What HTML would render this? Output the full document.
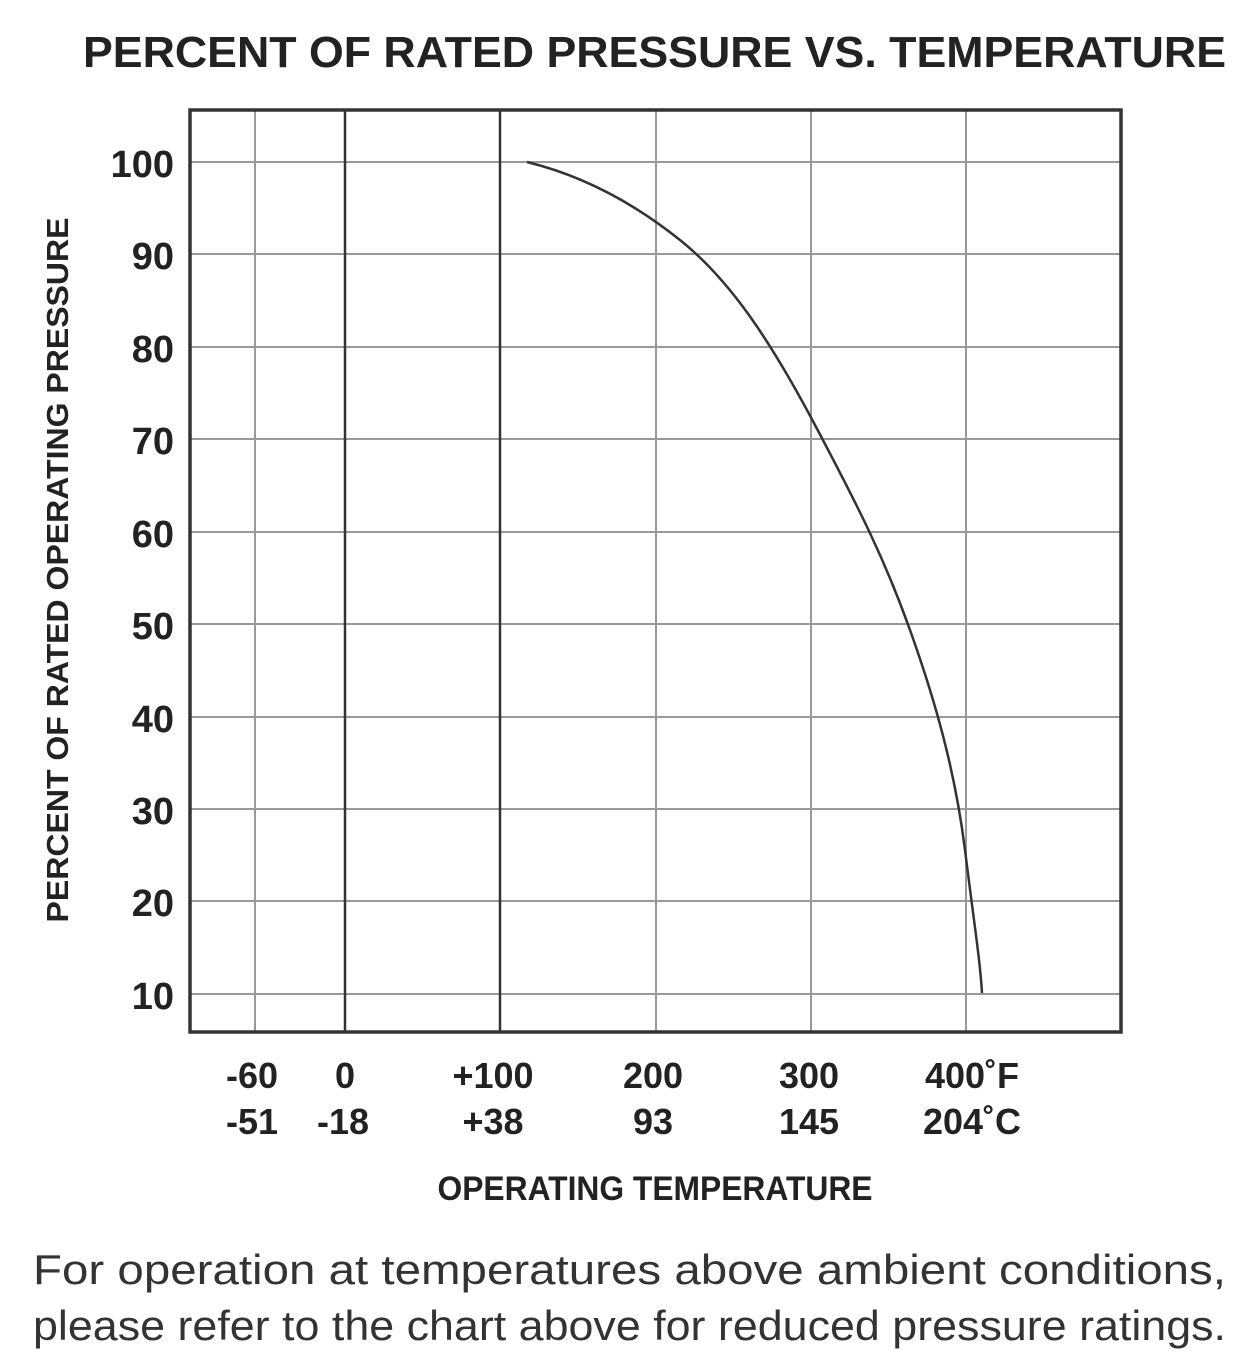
<!DOCTYPE html>
<html><head><meta charset="utf-8"><style>html,body{margin:0;padding:0;background:#fff}</style></head><body>
<svg width="1254" height="1362" xmlns="http://www.w3.org/2000/svg" font-family="Liberation Sans, sans-serif">
<rect width="1254" height="1362" fill="#fff"/>
<text x="83" y="67" font-size="44" font-weight="bold" fill="#222" textLength="1143" lengthAdjust="spacingAndGlyphs">PERCENT OF RATED PRESSURE VS. TEMPERATURE</text>
<g stroke="#999" stroke-width="2">
<line x1="190" y1="162" x2="1121" y2="162"/><line x1="190" y1="254" x2="1121" y2="254"/>
<line x1="190" y1="347" x2="1121" y2="347"/><line x1="190" y1="439" x2="1121" y2="439"/>
<line x1="190" y1="532" x2="1121" y2="532"/><line x1="190" y1="624" x2="1121" y2="624"/>
<line x1="190" y1="717" x2="1121" y2="717"/><line x1="190" y1="809" x2="1121" y2="809"/>
<line x1="190" y1="901" x2="1121" y2="901"/><line x1="190" y1="994" x2="1121" y2="994"/>
<line x1="255" y1="110" x2="255" y2="1032"/><line x1="656" y1="110" x2="656" y2="1032"/>
<line x1="811" y1="110" x2="811" y2="1032"/><line x1="966" y1="110" x2="966" y2="1032"/>
</g>
<g stroke="#333" stroke-width="2.5">
<line x1="345" y1="110" x2="345" y2="1032"/><line x1="500" y1="110" x2="500" y2="1032"/>
</g>
<rect x="190" y="110" width="931" height="922" fill="none" stroke="#333" stroke-width="3.5"/>
<path d="M527,162 C580,175 630,200 680,240 S770,340 815,425 S885,560 910,630 S955,770 965,850 S980,960 982,993" fill="none" stroke="#333" stroke-width="2.5"/>
<g font-size="38" font-weight="bold" fill="#222" text-anchor="end">
<text x="174" y="177">100</text><text x="174" y="269">90</text><text x="174" y="362">80</text>
<text x="174" y="454">70</text><text x="174" y="547">60</text><text x="174" y="639">50</text>
<text x="174" y="732">40</text><text x="174" y="824">30</text><text x="174" y="916">20</text>
<text x="174" y="1009">10</text>
</g>
<g font-size="36" font-weight="bold" fill="#222" text-anchor="middle">
<text x="252" y="1088">-60</text><text x="345" y="1088">0</text><text x="493" y="1088">+100</text>
<text x="653" y="1088">200</text><text x="809" y="1088">300</text><text x="972" y="1088">400˚F</text>
<text x="252" y="1134">-51</text><text x="343" y="1134">-18</text><text x="493" y="1134">+38</text>
<text x="653" y="1134">93</text><text x="809" y="1134">145</text><text x="972" y="1134">204˚C</text>
</g>
<text x="655" y="1200" font-size="34" font-weight="bold" fill="#222" text-anchor="middle" textLength="435" lengthAdjust="spacingAndGlyphs">OPERATING TEMPERATURE</text>
<text transform="translate(68,570) rotate(-90)" font-size="31" font-weight="bold" fill="#222" text-anchor="middle" textLength="705" lengthAdjust="spacingAndGlyphs">PERCENT OF RATED OPERATING PRESSURE</text>
<text x="33" y="1284" font-size="42" fill="#333" textLength="1193" lengthAdjust="spacingAndGlyphs">For operation at temperatures above ambient conditions,</text>
<text x="33" y="1340" font-size="42" fill="#333" textLength="1193" lengthAdjust="spacingAndGlyphs">please refer to the chart above for reduced pressure ratings.</text>
</svg>
</body></html>
